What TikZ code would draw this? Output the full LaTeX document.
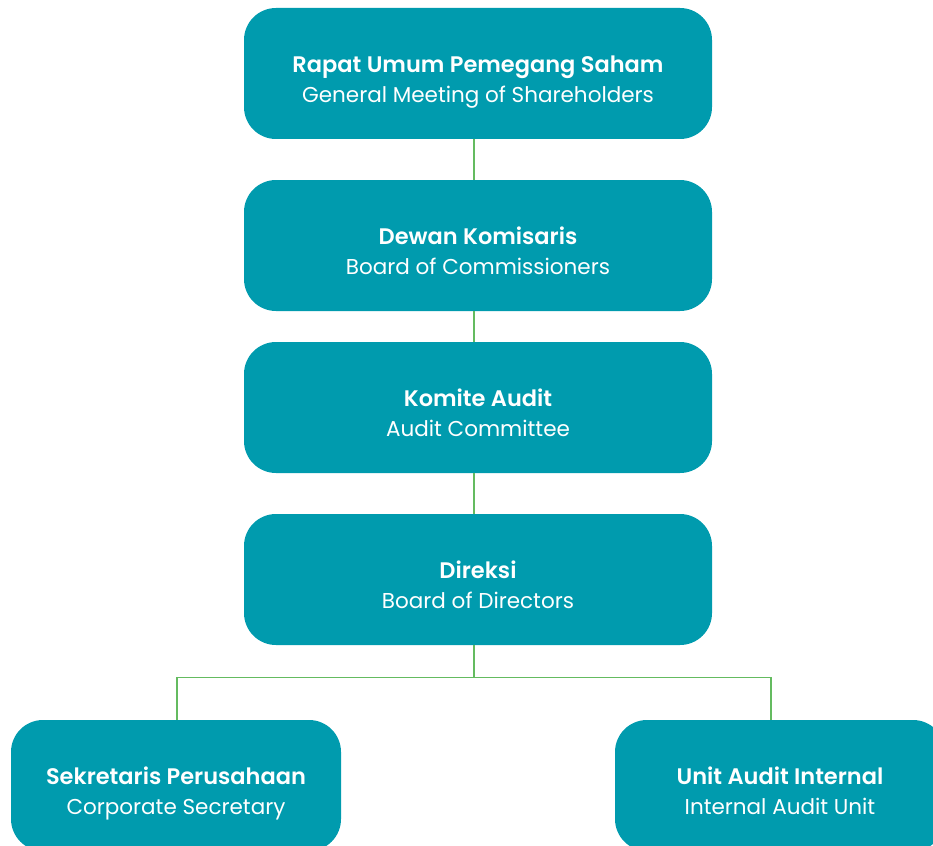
\documentclass[tikz,border=0pt]{standalone}
\usepackage{fontspec}
\setmainfont{Poppins}[BoldFont={Poppins SemiBold}]
\definecolor{boxteal}{RGB}{0,155,174}
\definecolor{linegreen}{RGB}{100,187,96}
\newcommand\twolines[2]{\rule{0pt}{37pt}\textbf{#1}\strut\\{\fontsize{21.5}{29.5}\selectfont #2}\strut}
\begin{document}
\begin{tikzpicture}[x=1pt,y=-1pt,
  orgbox/.style={rectangle, rounded corners=32pt, fill=boxteal, text=white,
    minimum width=468pt, minimum height=131pt, align=center, inner sep=0pt,
    font=\fontsize{22.5}{29.5}\selectfont},
  sidebox/.style={orgbox, minimum width=330pt},
  conn/.style={draw=linegreen, line width=1.4pt}]
\useasboundingbox (0,0) rectangle (933,845);
\begin{scope}
\clip (0,0) rectangle (933,845);
\node[orgbox] (rups) at (478,73.5) {\twolines{Rapat Umum Pemegang Saham}{General Meeting of Shareholders}};
\node[orgbox] (dk) at (478,245.5) {\twolines{Dewan Komisaris}{Board of Commissioners}};
\node[orgbox] (ka) at (478,407.5) {\twolines{Komite Audit}{Audit Committee}};
\node[orgbox] (dir) at (478,579.5) {\twolines{Direksi}{Board of Directors}};
\node[sidebox] (sek) at (176,785.5) {\twolines{Sekretaris Perusahaan}{Corporate Secretary}};
\node[sidebox] (uai) at (780,785.5) {\twolines{Unit Audit Internal}{Internal Audit Unit}};
\coordinate (jn) at (474,677.5);
\draw[conn] ([xshift=-4pt]rups.south) -- ([xshift=-4pt]dk.north);
\draw[conn] ([xshift=-4pt]dk.south) -- ([xshift=-4pt]ka.north);
\draw[conn] ([xshift=-4pt]ka.south) -- ([xshift=-4pt]dir.north);
\draw[conn] ([xshift=-4pt]dir.south) -- (jn);
\draw[conn] (jn) -| ([xshift=1pt]sek.north);
\draw[conn] (jn) -| ([xshift=-9pt]uai.north);
\end{scope}
\end{tikzpicture}
\end{document}
